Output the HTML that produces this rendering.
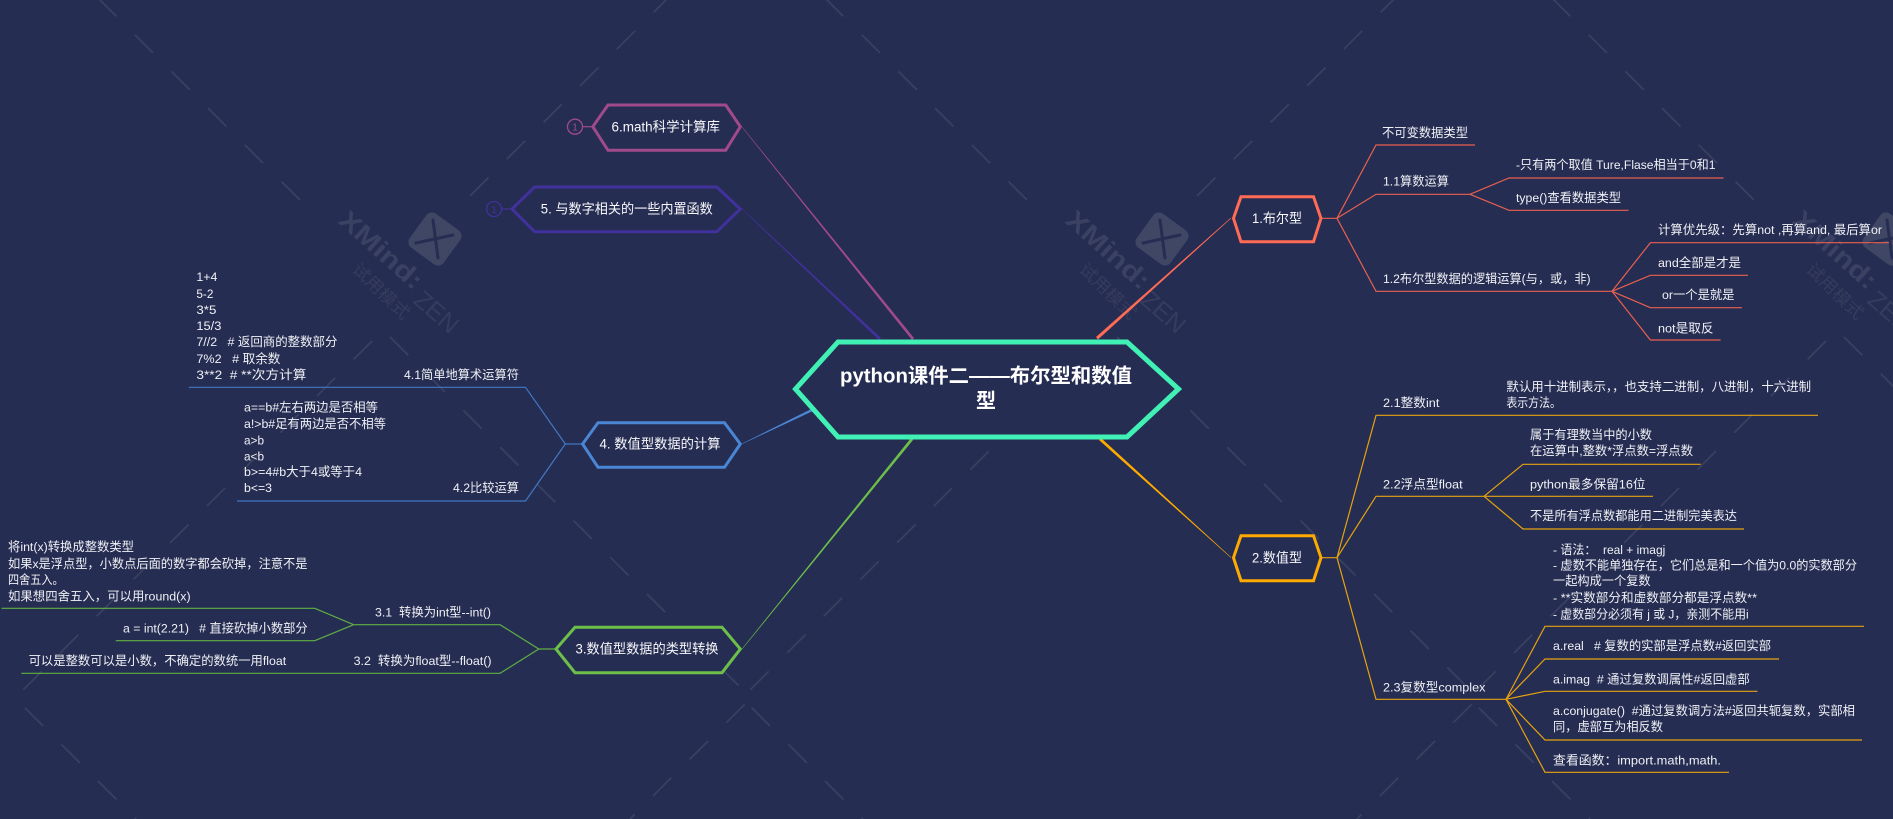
<!DOCTYPE html>
<html><head><meta charset="utf-8"><title>python课件二——布尔型和数值型</title>
<style>
html,body{margin:0;padding:0;background:#262d52;width:1893px;height:819px;overflow:hidden}
svg{display:block}
text{font-family:"Liberation Sans","Noto Sans CJK SC",sans-serif;font-size:12.3px;fill:#f0f1f5;white-space:pre}
.n{font-size:13.5px;fill:#f8f8fb}
.dash{stroke:#3a4160;stroke-width:1.7;fill:none;stroke-dasharray:26 25.9}
.wm{fill:#3a4162}
.wl{fill:#353c5d}
.l{fill:none;stroke-width:1.2}
.h{fill:#262d52;stroke-width:3}
</style></head><body>
<svg width="1893" height="819" viewBox="0 0 1893 819" xmlns="http://www.w3.org/2000/svg">
<rect width="1893" height="819" fill="#262d52"/>
<!-- watermark dashes -->
<path class="dash" d="M98 -2L300 200M825 -2L1027 200M1552 -2L1754 200"/>
<path class="dash" d="M390 337L740 687M1117 337L1467 687M1844 337L2194 687"/>
<path class="dash" d="M751.7 707.7L863 819M24.7 707.7L136 819M1478.7 707.7L1590 819"/>
<path class="dash" d="M672 -6L466 200M1399 -6L1193 200"/>
<path class="dash" d="M372 341L23 690M1099 341L750 690M1826 341L1477 690"/>
<path class="dash" d="M744.7 704.3L630 819M1471.7 704.3L1357 819"/>
<!-- watermark logos -->
<g>
<rect x="414" y="218" width="42" height="42" rx="7" transform="rotate(36 435 239)" fill="#3f4765"/>
<path d="M433 220L438 258M416 243L453 235" stroke="#262d52" stroke-width="3" stroke-linecap="round" fill="none"/>
<text class="wm" transform="translate(337 222) rotate(42)" style="font-size:26px;font-weight:bold" textLength="103" lengthAdjust="spacingAndGlyphs">XMind:</text>
<text class="wl" transform="translate(412 302) rotate(41)" style="font-size:25px" textLength="50" lengthAdjust="spacingAndGlyphs">ZEN</text>
<text class="wl" transform="translate(351 270.4) rotate(44)" style="font-size:17px" textLength="72" lengthAdjust="spacingAndGlyphs">试用模式</text>
</g>
<g>
<rect x="1141" y="218" width="42" height="42" rx="7" transform="rotate(36 1162 239)" fill="#3f4765"/>
<path d="M1160 220L1165 258M1143 243L1180 235" stroke="#262d52" stroke-width="3" stroke-linecap="round" fill="none"/>
<text class="wm" transform="translate(1064 222) rotate(42)" style="font-size:26px;font-weight:bold" textLength="103" lengthAdjust="spacingAndGlyphs">XMind:</text>
<text class="wl" transform="translate(1139 302) rotate(41)" style="font-size:25px" textLength="50" lengthAdjust="spacingAndGlyphs">ZEN</text>
<text class="wl" transform="translate(1078 270.4) rotate(44)" style="font-size:17px" textLength="72" lengthAdjust="spacingAndGlyphs">试用模式</text>
</g>
<g>
<rect x="1868" y="218" width="42" height="42" rx="7" transform="rotate(36 1889 239)" fill="#3f4765"/>
<path d="M1887 220L1892 258M1870 243L1907 235" stroke="#262d52" stroke-width="3" stroke-linecap="round" fill="none"/>
<text class="wm" transform="translate(1791 222) rotate(42)" style="font-size:26px;font-weight:bold" textLength="103" lengthAdjust="spacingAndGlyphs">XMind:</text>
<text class="wl" transform="translate(1866 302) rotate(41)" style="font-size:25px" textLength="50" lengthAdjust="spacingAndGlyphs">ZEN</text>
<text class="wl" transform="translate(1805 270.4) rotate(44)" style="font-size:17px" textLength="72" lengthAdjust="spacingAndGlyphs">试用模式</text>
</g>

<!-- main connectors (tapered) -->
<polygon points="1096,337 1098,339.5 1231.2,218.2 1230.8,217.8" fill="#ff6b55"/>
<polygon points="1099,440 1101,438 1231.3,557.5 1231,557.9" fill="#ffaa00"/>
<polygon points="914,338 912,340 742,127.3 742.4,127" fill="#a04a8c"/>
<polygon points="881,338 879,340 742,209.3 742.4,209" fill="#41319c"/>
<polygon points="813,411 812,408.6 742,443.6 742.2,444" fill="#4a86d4"/>
<polygon points="913,440 911,438 742,648.7 742.4,649" fill="#6cc04a"/>

<!-- topic 1 -->
<path class="l" stroke="#e8604f" d="M1321 218.3H1337L1376 145H1475M1337 218.3L1376 194.3H1470L1509 178H1723.5M1470 194.3L1509 210.3H1628.6M1337 218.3L1376 291.3H1612L1650.4 242.7H1889M1612 291.3L1650.4 275.3H1748M1612 291.3L1650.4 307.7H1742M1612 291.3L1650.4 340H1720.6"/>
<polygon class="h" stroke="#ff6b55" points="1233.5,218.3 1241,196.7 1313.5,196.7 1321,218.3 1313.5,241.7 1241,241.7"/>
<text class="n" x="1252" y="223" textLength="50" lengthAdjust="spacingAndGlyphs">1.布尔型</text>
<text x="1382" y="136.8" textLength="86" lengthAdjust="spacingAndGlyphs">不可变数据类型</text>
<text x="1383" y="185.5" textLength="66" lengthAdjust="spacingAndGlyphs">1.1算数运算</text>
<text x="1516" y="169.2" textLength="199.5" lengthAdjust="spacingAndGlyphs">-只有两个取值 Ture,Flase相当于0和1</text>
<text x="1516" y="202.2" textLength="105" lengthAdjust="spacingAndGlyphs">type()查看数据类型</text>
<text x="1383" y="283.2" textLength="207.6" lengthAdjust="spacingAndGlyphs">1.2布尔型数据的逻辑运算(与，或，非)</text>
<text x="1658" y="234.2" textLength="224" lengthAdjust="spacingAndGlyphs">计算优先级：先算not ,再算and, 最后算or</text>
<text x="1658" y="267.2" textLength="83" lengthAdjust="spacingAndGlyphs">and全部是才是</text>
<text x="1662" y="299.2" textLength="72.5" lengthAdjust="spacingAndGlyphs">or一个是就是</text>
<text x="1658" y="332.5" textLength="55.5" lengthAdjust="spacingAndGlyphs">not是取反</text>

<!-- topic 2 -->
<path class="l" stroke="#e6a30f" d="M1321 557.7H1337L1376 415.3H1818M1337 557.7L1376 496.3H1653M1484 496.3L1523 464.3H1700.7M1484 496.3L1523 529H1744M1337 557.7L1376 699.3H1506L1545 626.3H1864M1506 699.3L1545 659H1779M1506 699.3L1545 691.3H1757.5M1506 699.3L1545 740H1862M1506 699.3L1545 772.3H1729"/>
<polygon class="h" stroke="#ffaa00" points="1233.5,557.7 1241,535.7 1313.5,535.7 1321,557.7 1313.5,580.7 1241,580.7"/>
<text class="n" x="1252" y="562.3" textLength="50" lengthAdjust="spacingAndGlyphs">2.数值型</text>
<text x="1383" y="407.2" textLength="56.4" lengthAdjust="spacingAndGlyphs">2.1整数int</text>
<text x="1506.4" y="391.2" textLength="304.7" lengthAdjust="spacingAndGlyphs">默认用十进制表示，，也支持二进制，八进制，十六进制</text>
<text x="1506.4" y="407.2" textLength="54.5" lengthAdjust="spacingAndGlyphs">表示方法。</text>
<text x="1383" y="488.5" textLength="79.6" lengthAdjust="spacingAndGlyphs">2.2浮点型float</text>
<text x="1530" y="439.2" textLength="122" lengthAdjust="spacingAndGlyphs">属于有理数当中的小数</text>
<text x="1530" y="455.2" textLength="163" lengthAdjust="spacingAndGlyphs">在运算中,整数*浮点数=浮点数</text>
<text x="1530" y="488.5" textLength="115.6" lengthAdjust="spacingAndGlyphs">python最多保留16位</text>
<text x="1530" y="520.2" textLength="207" lengthAdjust="spacingAndGlyphs">不是所有浮点数都能用二进制完美表达</text>
<text x="1383" y="691.5" textLength="102.4" lengthAdjust="spacingAndGlyphs">2.3复数型complex</text>
<text x="1553" y="553.8" textLength="112.3" lengthAdjust="spacingAndGlyphs">- 语法：  real + imagj</text>
<text x="1553" y="569.5" textLength="304" lengthAdjust="spacingAndGlyphs">- 虚数不能单独存在，它们总是和一个值为0.0的实数部分</text>
<text x="1553" y="585.2" textLength="97.6" lengthAdjust="spacingAndGlyphs">一起构成一个复数</text>
<text x="1553" y="601.8" textLength="204" lengthAdjust="spacingAndGlyphs">- **实数部分和虚数部分都是浮点数**</text>
<text x="1553" y="618.5" textLength="195.7" lengthAdjust="spacingAndGlyphs">- 虚数部分必须有 j 或 J，亲测不能用i</text>
<text x="1553" y="650.2" textLength="218" lengthAdjust="spacingAndGlyphs">a.real   # 复数的实部是浮点数#返回实部</text>
<text x="1553" y="683.5" textLength="196.7" lengthAdjust="spacingAndGlyphs">a.imag  # 通过复数调属性#返回虚部</text>
<text x="1553" y="715.2" textLength="302" lengthAdjust="spacingAndGlyphs">a.conjugate()  #通过复数调方法#返回共轭复数，实部相</text>
<text x="1553" y="731.2" textLength="110" lengthAdjust="spacingAndGlyphs">同，虚部互为相反数</text>
<text x="1553" y="764.5" textLength="168" lengthAdjust="spacingAndGlyphs">查看函数：import.math,math.</text>

<!-- topic 6 -->
<path class="l" stroke="#a04a8c" d="M593 126.7H582.5"/>
<circle cx="575" cy="126.7" r="7.5" fill="none" stroke="#a04a8c" stroke-width="1.3"/>
<text x="575" y="130.5" text-anchor="middle" style="font-size:10px;fill:#a04a8c">1</text>
<polygon class="h" stroke="#a04a8c" points="592.8,126.7 608,105 725.7,105 740.3,126.7 725.7,150.3 608,150.3"/>
<text class="n" x="611.5" y="131.3" textLength="108.5" lengthAdjust="spacingAndGlyphs">6.math科学计算库</text>

<!-- topic 5 -->
<path class="l" stroke="#41319c" d="M512 209H502"/>
<circle cx="494" cy="209" r="7.5" fill="none" stroke="#41319c" stroke-width="1.3"/>
<text x="494" y="212.8" text-anchor="middle" style="font-size:10px;fill:#41319c">1</text>
<polygon class="h" stroke="#41319c" points="512,209 534.7,187 716.8,187 740.3,209 716.8,231.7 534.7,231.7"/>
<text class="n" x="540.8" y="213.6" textLength="172" lengthAdjust="spacingAndGlyphs">5. 与数字相关的一些内置函数</text>

<!-- topic 4 -->
<path class="l" stroke="#4277c2" d="M582.6 444H565.3L525.5 387.3H188.8M565.3 444L525.5 501H237"/>
<polygon class="h" stroke="#4a86d4" points="582.6,444 598,422.7 724.5,422.7 740.3,444 724.5,467.3 598,467.3"/>
<text class="n" x="599.5" y="448.6" textLength="121" lengthAdjust="spacingAndGlyphs">4. 数值型数据的计算</text>
<text x="404" y="379.2" textLength="115" lengthAdjust="spacingAndGlyphs">4.1简单地算术运算符</text>
<text x="196.4" y="281.2" textLength="21" lengthAdjust="spacingAndGlyphs">1+4</text>
<text x="196.4" y="298.2" textLength="17" lengthAdjust="spacingAndGlyphs">5-2</text>
<text x="196.4" y="314.2" textLength="20" lengthAdjust="spacingAndGlyphs">3*5</text>
<text x="196.4" y="330.2" textLength="25" lengthAdjust="spacingAndGlyphs">15/3</text>
<text x="196.4" y="346.2" textLength="141" lengthAdjust="spacingAndGlyphs">7//2   # 返回商的整数部分</text>
<text x="196.4" y="363.2" textLength="84" lengthAdjust="spacingAndGlyphs">7%2   # 取余数</text>
<text x="196.4" y="379.2" textLength="110" lengthAdjust="spacingAndGlyphs">3**2  # **次方计算</text>
<text x="453" y="492.2" textLength="66" lengthAdjust="spacingAndGlyphs">4.2比较运算</text>
<text x="244" y="411.5" textLength="134" lengthAdjust="spacingAndGlyphs">a==b#左右两边是否相等</text>
<text x="244" y="428.2" textLength="142" lengthAdjust="spacingAndGlyphs">a!&gt;b#足有两边是否不相等</text>
<text x="244" y="444.5" textLength="20" lengthAdjust="spacingAndGlyphs">a&gt;b</text>
<text x="244" y="460.5" textLength="20" lengthAdjust="spacingAndGlyphs">a&lt;b</text>
<text x="244" y="476.2" textLength="118" lengthAdjust="spacingAndGlyphs">b&gt;=4#b大于4或等于4</text>
<text x="244" y="492.2" textLength="28" lengthAdjust="spacingAndGlyphs">b&lt;=3</text>

<!-- topic 3 -->
<path class="l" stroke="#5fb043" d="M556 649H538.8L500 624.7H353.6L314.8 608.3H1.5M353.6 624.7L314.8 640.7H115.8M538.8 649L500 673.3H21.4"/>
<polygon class="h" stroke="#6cc04a" points="556,649 575,627.3 722,627.3 740.3,649 722,672.7 575,672.7"/>
<text class="n" x="575.5" y="653.6" textLength="143" lengthAdjust="spacingAndGlyphs">3.数值型数据的类型转换</text>
<text x="375" y="616.5" textLength="116" lengthAdjust="spacingAndGlyphs">3.1  转换为int型--int()</text>
<text x="8" y="551.2" textLength="126" lengthAdjust="spacingAndGlyphs">将int(x)转换成整数类型</text>
<text x="8" y="568.2" textLength="299.5" lengthAdjust="spacingAndGlyphs">如果x是浮点型，小数点后面的数字都会砍掉，注意不是</text>
<text x="8" y="584.2" textLength="55.6" lengthAdjust="spacingAndGlyphs">四舍五入。</text>
<text x="8" y="600.5" textLength="182.6" lengthAdjust="spacingAndGlyphs">如果想四舍五入，可以用round(x)</text>
<text x="123" y="632.5" textLength="184.7" lengthAdjust="spacingAndGlyphs">a = int(2.21)   # 直接砍掉小数部分</text>
<text x="353.6" y="665.2" textLength="138" lengthAdjust="spacingAndGlyphs">3.2  转换为float型--float()</text>
<text x="28.6" y="665.2" textLength="257.6" lengthAdjust="spacingAndGlyphs">可以是整数可以是小数，不确定的数统一用float</text>

<!-- central topic -->
<polygon fill="#262d52" stroke="#40f0b4" stroke-width="5" points="795.5,389 838,342 1127,342 1178.5,389 1127,437 838,437"/>
<text x="840" y="382.5" textLength="292" lengthAdjust="spacingAndGlyphs" style="font-size:20px;font-weight:bold;fill:#fff">python课件二——布尔型和数值</text>
<text x="986" y="407.5" text-anchor="middle" style="font-size:20px;font-weight:bold;fill:#fff">型</text>
</svg>
</body></html>
